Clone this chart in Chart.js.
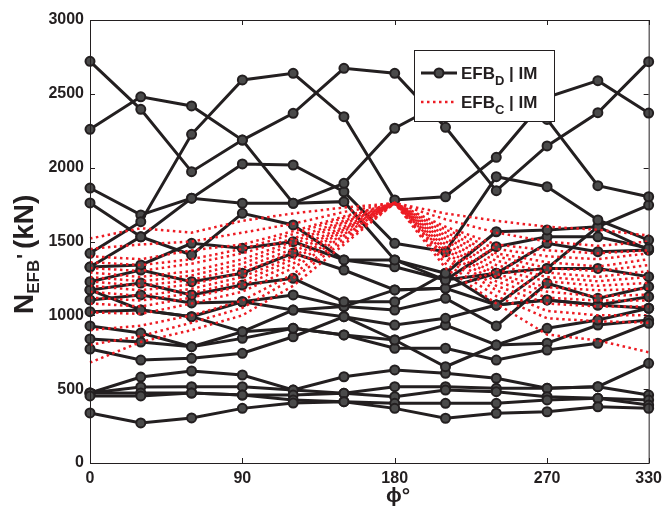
<!DOCTYPE html>
<html>
<head>
<meta charset="utf-8">
<script src="https://cdn.jsdelivr.net/npm/chart.js@4.4.0/dist/chart.umd.min.js"></script>
<style>
  html, body { margin: 0; padding: 0; background: #fff; }
</style>
</head>
<body>
<canvas id="grafico" width="668" height="509"></canvas>
<script>
// Angulos (eje x) y ticks
const angulos = [0, 30, 60, 90, 120, 150, 180, 210, 240, 270, 300, 330];
const ticksX = [0, 90, 180, 270, 330];
const ticksY = [0, 500, 1000, 1500, 2000, 2500, 3000];

// EFB_D | IM (lineas negras con circulos)
const efbD01 = [2720, 2395, 1973, 2187, 2368, 2673, 2639, 2273, 1844, 2147, 2372, 2718];
const efbD02 = [2260, 2480, 2418, 2187, 1759, 1894, 2267, 2450, 2400, 2327, 1878, 1803];
const efbD03 = [1420, 1634, 2226, 2594, 2639, 2345, 1781, 1803, 2070, 2476, 2589, 2370];
const efbD04 = [1862, 1680, 1793, 2025, 2018, 1837, 1488, 1431, 1939, 1871, 1646, 1510];
const efbD05 = [1761, 1532, 1793, 1759, 1759, 1770, 1375, 1285, 1566, 1578, 1600, 1747];
const efbD06 = [1327, 1341, 1488, 1454, 1499, 1375, 1329, 1239, 1465, 1532, 1532, 1454];
const efbD07 = [1228, 1307, 1228, 1285, 1422, 1307, 1172, 1183, 1285, 1488, 1431, 1442];
const efbD08 = [1172, 1219, 1138, 1205, 1251, 1092, 1092, 1285, 1070, 1318, 1318, 1262];
const efbD09 = [1104, 1138, 1084, 1092, 1138, 1059, 1036, 1115, 928, 1217, 1115, 1194];
const efbD10 = [1025, 1036, 991, 889, 1036, 991, 934, 980, 1070, 1104, 1070, 1126];
const efbD11 = [928, 880, 788, 844, 912, 867, 833, 934, 799, 912, 968, 1048];
const efbD12 = [840, 819, 788, 889, 912, 867, 777, 777, 697, 765, 811, 946];
const efbD13 = [772, 697, 709, 743, 855, 991, 833, 652, 799, 811, 934, 968];
const efbD14 = [339, 271, 305, 370, 406, 415, 370, 303, 337, 347, 381, 370];
const efbD15 = [454, 454, 474, 460, 427, 415, 404, 404, 404, 427, 438, 393];
const efbD16 = [474, 474, 474, 460, 460, 472, 449, 494, 483, 449, 438, 427];
const efbD17 = [474, 515, 517, 517, 494, 472, 517, 517, 506, 506, 517, 460];
const efbD18 = [474, 582, 623, 596, 494, 584, 630, 607, 574, 506, 517, 675];
const efbD19 = [1327, 1532, 1409, 1691, 1612, 1375, 1375, 1239, 1285, 1318, 1600, 1442];
const efbD20 = [1172, 1036, 991, 1092, 1036, 1059, 1172, 1183, 1070, 1104, 1070, 1048];

// EFB_C | IM (lineas rojas punteadas)
const efbC01 = [1520, 1590, 1560, 1640, 1690, 1730, 1760, 1690, 1640, 1600, 1580, 1540];
const efbC02 = [1450, 1480, 1500, 1560, 1620, 1700, 1760, 1650, 1560, 1500, 1470, 1500];
const efbC03 = [1400, 1380, 1440, 1480, 1570, 1670, 1760, 1600, 1480, 1440, 1420, 1440];
const efbC04 = [1360, 1340, 1380, 1450, 1550, 1660, 1760, 1580, 1450, 1400, 1380, 1420];
const efbC05 = [1320, 1300, 1350, 1420, 1520, 1640, 1760, 1560, 1420, 1360, 1330, 1380];
const efbC06 = [1290, 1260, 1300, 1380, 1500, 1630, 1760, 1540, 1400, 1320, 1300, 1340];
const efbC07 = [1260, 1230, 1270, 1350, 1480, 1620, 1760, 1520, 1370, 1290, 1260, 1300];
const efbC08 = [1230, 1200, 1240, 1320, 1450, 1600, 1760, 1500, 1340, 1260, 1230, 1260];
const efbC09 = [1200, 1170, 1210, 1290, 1430, 1590, 1760, 1480, 1310, 1230, 1200, 1220];
const efbC10 = [1160, 1130, 1180, 1260, 1400, 1580, 1760, 1460, 1280, 1190, 1170, 1180];
const efbC11 = [1120, 1100, 1150, 1230, 1380, 1570, 1760, 1440, 1260, 1160, 1130, 1140];
const efbC12 = [1080, 1060, 1120, 1200, 1350, 1550, 1760, 1420, 1230, 1120, 1100, 1100];
const efbC13 = [1020, 1010, 1080, 1160, 1320, 1540, 1760, 1400, 1200, 1080, 1060, 1060];
const efbC14 = [900, 930, 1000, 1100, 1280, 1520, 1760, 1380, 1170, 1030, 1000, 1000];
const efbC15 = [800, 860, 950, 1050, 1250, 1500, 1760, 1350, 1130, 980, 960, 950];
const efbC16 = [680, 820, 900, 1000, 1200, 1480, 1760, 1320, 1080, 870, 830, 750];

const seriesD = [efbD01, efbD02, efbD03, efbD04, efbD05, efbD06, efbD07, efbD08, efbD09, efbD10,
                 efbD11, efbD12, efbD13, efbD14, efbD15, efbD16, efbD17, efbD18, efbD19, efbD20];
const seriesC = [efbC01, efbC02, efbC03, efbC04, efbC05, efbC06, efbC07, efbC08,
                 efbC09, efbC10, efbC11, efbC12, efbC13, efbC14, efbC15, efbC16];

const NEGRO = '#231f20';
const ROJO = '#ed1c24';
const FUENTE = '"Liberation Sans", Arial, sans-serif';

function puntos(serie) {
  return angulos.map((x, i) => ({ x: x, y: serie[i] }));
}

const datasets = [];
seriesC.forEach(s => {
  datasets.push({
    data: puntos(s),
    borderColor: ROJO,
    borderWidth: 2.5,
    borderDash: [2.5, 3.5],
    pointRadius: 0,
    tension: 0,
    order: 0,
    clip: false
  });
});
seriesD.forEach(s => {
  datasets.push({
    data: puntos(s),
    borderColor: NEGRO,
    borderWidth: 3,
    pointRadius: 4.5,
    pointBorderWidth: 2,
    pointBorderColor: NEGRO,
    pointBackgroundColor: '#4a4a4a',
    tension: 0,
    order: 1,
    clip: false
  });
});

// Marco, ticks hacia adentro, titulos y leyenda
const decorado = {
  id: 'decorado',
  afterDraw(chart) {
    const c = chart.ctx;
    const a = chart.chartArea;
    const sx = chart.scales.x, sy = chart.scales.y;
    c.save();
    c.strokeStyle = NEGRO;
    c.lineWidth = 1;
    c.strokeRect(a.left + 0.5, a.top + 0.5, a.right - a.left, a.bottom - a.top);
    c.beginPath();
    ticksX.forEach(v => {
      const px = Math.round(sx.getPixelForValue(v)) + 0.5;
      c.moveTo(px, a.bottom); c.lineTo(px, a.bottom - 5);
      c.moveTo(px, a.top); c.lineTo(px, a.top + 5);
    });
    ticksY.forEach(v => {
      const py = Math.round(sy.getPixelForValue(v)) + 0.5;
      c.moveTo(a.left, py); c.lineTo(a.left + 5, py);
      c.moveTo(a.right, py); c.lineTo(a.right - 5, py);
    });
    c.stroke();

    // titulo eje y: N_EFB' (kN)
    c.fillStyle = NEGRO;
    c.save();
    c.translate(33, 314);
    c.rotate(-Math.PI / 2);
    c.textBaseline = 'alphabetic';
    c.textAlign = 'left';
    c.font = 'bold 28px ' + FUENTE;
    c.fillText('N', 0, 0);
    let w = c.measureText('N').width;
    c.font = 'bold 17px ' + FUENTE;
    c.fillText('EFB', w, 6);
    w += c.measureText('EFB').width + 1;
    c.font = 'bold 20px ' + FUENTE;
    c.fillText("'", w, -2);
    w += c.measureText("'").width + 5;
    c.font = 'bold 28px ' + FUENTE;
    c.fillText('(kN)', w, 0);
    c.restore();

    // titulo eje x
    c.font = 'bold 21px ' + FUENTE;
    c.textAlign = 'center';
    c.textBaseline = 'alphabetic';
    c.fillText('\u03D5\u00B0', 398, 502);

    // leyenda
    const lx = 414, ly = 50, lw = 140, lh = 71;
    c.fillStyle = '#fff';
    c.fillRect(lx, ly, lw, lh);
    c.strokeStyle = NEGRO;
    c.lineWidth = 1;
    c.strokeRect(lx + 0.5, ly + 0.5, lw, lh);

    c.lineWidth = 3;
    c.beginPath();
    c.moveTo(421, 73); c.lineTo(457, 73);
    c.stroke();
    c.beginPath();
    c.arc(439, 73, 4.5, 0, Math.PI * 2);
    c.fillStyle = '#4a4a4a';
    c.fill();
    c.lineWidth = 2;
    c.stroke();

    c.strokeStyle = ROJO;
    c.lineWidth = 2.5;
    c.setLineDash([2.5, 3.5]);
    c.beginPath();
    c.moveTo(421, 102); c.lineTo(457, 102);
    c.stroke();
    c.setLineDash([]);

    c.fillStyle = NEGRO;
    c.textAlign = 'left';
    [['D', 79], ['C', 108]].forEach(([sub, base]) => {
      let x = 461;
      c.font = 'bold 17px ' + FUENTE;
      c.fillText('EFB', x, base);
      x += c.measureText('EFB').width;
      c.font = 'bold 13px ' + FUENTE;
      c.fillText(sub, x, base + 6);
      x += c.measureText(sub).width;
      c.font = 'bold 17px ' + FUENTE;
      c.fillText(' | IM', x, base);
    });
    c.restore();
  }
};

const ctx = document.getElementById('grafico').getContext('2d');
new Chart(ctx, {
  type: 'line',
  data: { datasets: datasets },
  options: {
    responsive: false,
    animation: false,
    devicePixelRatio: 1,
    layout: { padding: { top: 20, right: 13, left: 0, bottom: 0 } },
    plugins: { legend: { display: false }, tooltip: { enabled: false } },
    scales: {
      x: {
        type: 'linear',
        min: 0, max: 330,
        afterBuildTicks: s => { s.ticks = ticksX.map(v => ({ value: v })); },
        afterFit: s => { s.height = 46; },
        grid: { display: false, drawTicks: false },
        border: { display: false },
        ticks: { color: NEGRO, font: { family: FUENTE, size: 16, weight: 'bold' }, padding: 6, maxRotation: 0,
                 callback: v => String(v) }
      },
      y: {
        min: 0, max: 3000,
        afterBuildTicks: s => { s.ticks = ticksY.map(v => ({ value: v })); },
        afterFit: s => { s.width = 90; },
        grid: { display: false, drawTicks: false },
        border: { display: false },
        ticks: { color: NEGRO, font: { family: FUENTE, size: 16, weight: 'bold' }, padding: 6,
                 callback: v => String(v) }
      }
    }
  },
  plugins: [decorado]
});
</script>
</body>
</html>
